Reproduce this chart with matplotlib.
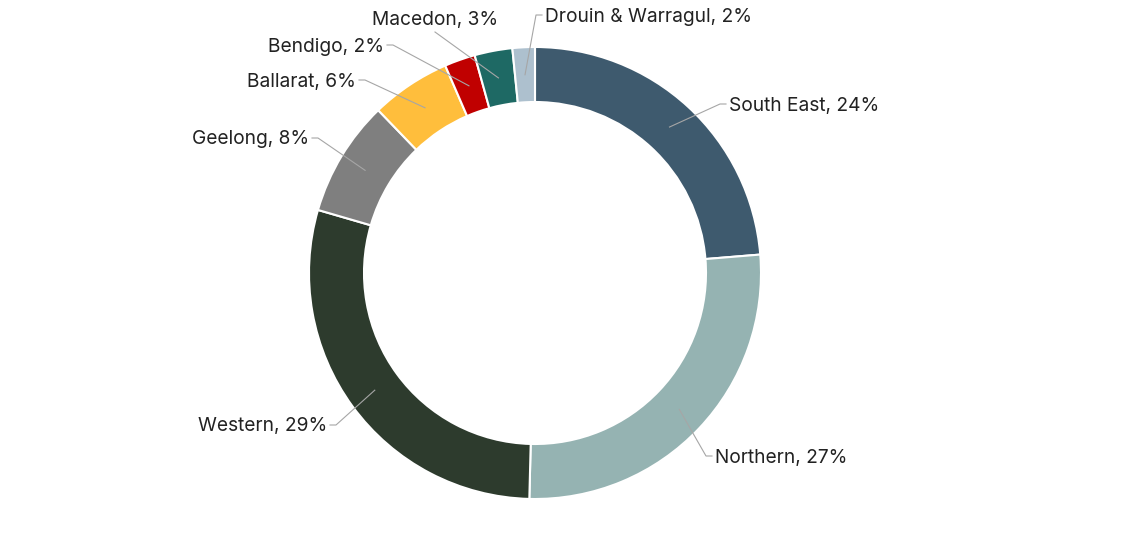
import numpy as np
import matplotlib.pyplot as plt

plt.rcParams['font.family'] = ['Inter', 'DejaVu Sans']

# Share of total by region (%)
regions = ["South East", "Northern", "Western", "Geelong", "Ballarat",
           "Bendigo", "Macedon", "Drouin & Warragul"]
shares = [23.7, 26.7, 29.1, 8.3, 5.7, 2.2, 2.7, 1.6]
colors = ["#3E5A6E", "#95B3B2", "#2D3B2D", "#7F7F7F", "#FFBE3C",
          "#C00000", "#1E6964", "#ADC0CE"]

# label elbow positions in image pixels (y down) and which side the text sits
elbows = [(720, 104, "l"), (706, 456, "l"), (336, 425, "r"), (318, 138, "r"),
          (365, 80, "r"), (393, 45, "r"), (435, 32, "t"), (536, 15, "l")]

W, H = 1141, 547
cx, cy, R, ring = 535, 273, 226, 55
fs = 13.8

fig = plt.figure(figsize=(W / 100, H / 100), dpi=100)
ax = fig.add_axes([0, 0, 1, 1])
ax.axis("off")

wedges, _ = ax.pie(shares, colors=colors, startangle=90, counterclock=False,
                   center=(cx, H - cy), radius=R,
                   wedgeprops=dict(width=ring, edgecolor="white", linewidth=1.5))
ax.set_xlim(0, W)
ax.set_ylim(0, H)
ax.set_aspect("equal")

line_kw = dict(color="#A6A6A6", lw=0.8)
rmid = R - ring / 2
for w, name, share, (ex, ey, side) in zip(wedges, regions, shares, elbows):
    ang = np.deg2rad((w.theta1 + w.theta2) / 2)
    sx = cx + rmid * np.cos(ang)
    sy = (H - cy) + rmid * np.sin(ang)
    ey = H - ey
    label = f"{name}, {round(share)}%"
    if side == "t":
        ax.plot([sx, ex], [sy, ey], **line_kw)
        ax.text(ex, ey + 3, label, ha="center", va="bottom", fontsize=fs, color="#222222")
        continue
    d = 6 if side == "l" else -6
    ax.plot([sx, ex, ex + d], [sy, ey, ey], **line_kw)
    ax.text(ex + d + (3 if side == "l" else -3), ey - 1.5, label,
            ha="left" if side == "l" else "right", va="center",
            fontsize=fs, color="#222222")

fig.savefig("out.png", dpi=100)
